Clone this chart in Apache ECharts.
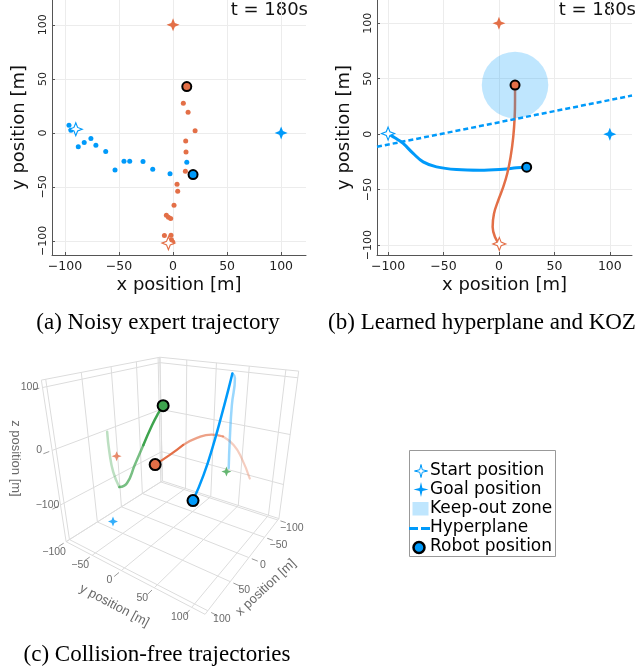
<!DOCTYPE html>
<html>
<head>
<meta charset="utf-8">
<script src="https://cdn.jsdelivr.net/npm/echarts@6/dist/echarts.min.js"></script>
<style>
  html, body { margin: 0; padding: 0; background: #fff; }
  #chart { width: 640px; height: 669px; }
</style>
</head>
<body>
<div id="chart"></div>
<script>
const BLUE = '#009AFA', ORANGE = '#E36F47', GREEN = '#3EA44E';
const SANS = 'DejaVu Sans';

// ---- shared
const ticks2d = [-100, -50, 0, 50, 100];
const timeLabel = 't = 180s';
const blueGoal = [100, 0];
const orangeGoal = [0, 100];

// ---- (a) noisy expert trajectory
const aBlueStart = [-90, 3.4];
const aOrangeStart = [-4.3, -102];
const aBlueDots = [[-96.3, 7.1], [-94.5, 2.5], [-87.7, -12.9], [-82.2, -8.9], [-76, -5.2], [-71.4, -11.4],
  [-62.3, -17.3], [-53.7, -34.3], [-45.4, -26.2], [-40.1, -26.2], [-27.8, -26.5], [-18.8, -33.6],
  [-2.8, -37.7], [12.7, -27.2]];
const aOrangeDots = [[9.5, 27.5], [13.9, 19.2], [20.4, 2.1], [11.7, -7.4], [12, -17.6], [11.4, -35.5],
  [3.7, -47.5], [4.3, -54], [0.9, -67], [-6.2, -76.2], [-4.3, -78], [-2.2, -79.3], [-8, -95],
  [-1.9, -94.7], [-1.5, -99], [-0.3, -101]];
const aBlueRobot = [18.5, -38.6];
const aOrangeRobot = [12.7, 42.9];

// ---- (b) learned hyperplane and KOZ
const bBlueStart = [-100, 0.5];
const bOrangeStart = [0.3, -99];
const bBluePath = [[-100, 0.5], [-96, -2], [-91.5, -4.8], [-86.4, -8.4], [-77.4, -17.4], [-68.4, -25],
  [-56.3, -29.5], [-38.2, -31.9], [-17.2, -32.5], [3.9, -31.6], [15.9, -30.4], [25, -29.8]];
const bOrangePath = [[0.3, -99], [-3.6, -92.8], [-5.7, -83.7], [-4.5, -71.7], [-0.6, -59.6], [3.9, -47.6],
  [7.5, -35.5], [10.5, -20.5], [12.9, -2.4], [14.2, 15.6], [14.5, 30.7], [14.5, 44.3]];
const bBlueRobot = [25, -29.8];
const bOrangeRobot = [14.5, 44.3];
const kozCenter = [14.5, 44.3];
const kozRadius = 30;
const hyperplane = [[-110, -11.4], [120, 34.8]];

// ---- (c) 3D trajectories [x, y, z], start first, robot last
const green3d = [[50, -64, 19], [50, -63, -17], [50, -59, -53], [50, -50, -79], [50, -36, -66],
  [50, -21, -27], [50, -6, 12], [50, 8, 48], [50, 17, 68], [50, 24, 81]];
const orange3d = [[0, 108, -31], [0, 96, -1], [0, 85, 17], [0, 71, 27], [0, 56, 26],
  [0, 36, 15], [0, 16, -3], [0, -5, -28], [0, -30, -55]];
const blue3d = [[-40, 61, -51], [-50, 55, -1], [-60, 50, 54], [-70, 47, 97], [-70, 43, 104],
  [-60, 44, 81], [-45, 44, 40], [-30, 42, -9], [-15, 38, -59], [0, 32, -103]];
const orangeGoal3d = [40, -61, -29];
const blueGoal3d = [100, -13, -94];
const greenGoal3d = [0, 78, -30];
const ticks3d = [-100, -50, 0, 50, 100];
const ticks3dZ = [-100, 0, 100];

// scene box and camera (perspective view)
const box3d = { xmin: -104.5, xmax: 105.5, ymin: -100, ymax: 116.3, zmin: -175.7, zmax: 110.9 };
const cam = { phi: 34.44, el: 23.79, dist: 4.284, k: 357.8, cx: 177.9, cy: 459.7 };

function basis(c) {
  const p = c.phi * Math.PI / 180, e = c.el * Math.PI / 180;
  return {
    ev: [Math.cos(e) * Math.cos(p), Math.cos(e) * Math.sin(p), Math.sin(e)],
    r: [-Math.sin(p), Math.cos(p), 0],
    u: [-Math.sin(e) * Math.cos(p), -Math.sin(e) * Math.sin(p), Math.cos(e)]
  };
}
const CB = basis(cam);
function dot(a, v) { return a[0] * v[0] + a[1] * v[1] + a[2] * v[2]; }
function project(pt) {
  const b = box3d;
  const Q = [2 * (pt[0] - b.xmin) / (b.xmax - b.xmin) - 1,
             2 * (pt[1] - b.ymin) / (b.ymax - b.ymin) - 1,
             2 * (pt[2] - b.zmin) / (b.zmax - b.zmin) - 1];
  const d = cam.dist - dot(Q, CB.ev);
  return [cam.cx + cam.k * dot(Q, CB.r) / d, cam.cy - cam.k * dot(Q, CB.u) / d];
}
const P = pt => project(pt);

const b = box3d;
const grid3d = [];
ticks3d.forEach(t => {
  grid3d.push([[t, b.ymin, b.zmin], [t, b.ymax, b.zmin]]);
  grid3d.push([[b.xmin, t, b.zmin], [b.xmax, t, b.zmin]]);
  grid3d.push([[t, b.ymin, b.zmin], [t, b.ymin, b.zmax]]);
  grid3d.push([[b.xmin, t, b.zmin], [b.xmin, t, b.zmax]]);
});
ticks3dZ.forEach(t => {
  grid3d.push([[b.xmin, b.ymin, t], [b.xmax, b.ymin, t]]);
  grid3d.push([[b.xmin, b.ymin, t], [b.xmin, b.ymax, t]]);
});
[[[b.xmin, b.ymin, b.zmin], [b.xmin, b.ymin, b.zmax]], [[b.xmin, b.ymin, b.zmin], [b.xmax, b.ymin, b.zmin]],
 [[b.xmin, b.ymin, b.zmin], [b.xmin, b.ymax, b.zmin]], [[b.xmax, b.ymin, b.zmin], [b.xmax, b.ymin, b.zmax]],
 [[b.xmin, b.ymax, b.zmin], [b.xmin, b.ymax, b.zmax]], [[b.xmin, b.ymin, b.zmax], [b.xmax, b.ymin, b.zmax]],
 [[b.xmin, b.ymin, b.zmax], [b.xmin, b.ymax, b.zmax]], [[b.xmax, b.ymin, b.zmin], [b.xmax, b.ymax, b.zmin]],
 [[b.xmin, b.ymax, b.zmin], [b.xmax, b.ymax, b.zmin]]].forEach(s => grid3d.push(s));
const tickMarks3d = [];
ticks3d.forEach(t => {
  tickMarks3d.push([[t, b.ymax + 4, b.zmin], [t, b.ymax + 12, b.zmin]]);
  tickMarks3d.push([[b.xmax + 4, t, b.zmin], [b.xmax + 12, t, b.zmin]]);
});
ticks3dZ.forEach(t => tickMarks3d.push([[b.xmax + 4, b.ymin, t], [b.xmax + 12, b.ymin, t]]));

const minus = v => String(v).replace('-', '\u2212');
const star4 = 'path://M0,-10L2.8,-2.8L10,0L2.8,2.8L0,10L-2.8,2.8L-10,0L-2.8,-2.8Z';

function xAx(gi, min, max) {
  return {
    gridIndex: gi, type: 'value', min: min, max: max,
    name: 'x position [m]', nameLocation: 'middle', nameGap: 21,
    nameTextStyle: { fontFamily: SANS, fontSize: 18, color: '#111' },
    axisLine: { onZero: false, lineStyle: { color: '#555', width: 1 } },
    axisTick: { inside: true, length: 3, customValues: ticks2d, lineStyle: { color: '#555' } },
    axisLabel: { customValues: ticks2d, formatter: minus, fontFamily: SANS, fontSize: 12.5, color: '#222', margin: 5 },
    splitLine: { show: true, lineStyle: { color: '#ececec', width: 1 } }
  };
}
function yAx(gi, min, max) {
  return {
    gridIndex: gi, type: 'value', min: min, max: max,
    name: 'y position [m]', nameLocation: 'middle', nameGap: 24, nameRotate: 90,
    nameTextStyle: { fontFamily: SANS, fontSize: 18, color: '#111' },
    axisLine: { onZero: false, lineStyle: { color: '#555', width: 1 } },
    axisTick: { inside: true, length: 3, customValues: ticks2d, lineStyle: { color: '#555' } },
    axisLabel: { customValues: ticks2d, formatter: minus, rotate: 90, fontFamily: SANS, fontSize: 11, color: '#222', margin: 3 },
    splitLine: { show: true, lineStyle: { color: '#ececec', width: 1 } }
  };
}
function robot(gi, pt, color, size) {
  return { type: 'scatter', xAxisIndex: gi, yAxisIndex: gi, z: 6, symbolSize: size || 9, data: [pt],
    itemStyle: { color: color, borderColor: '#000', borderWidth: 2, opacity: 1 } };
}
function star(gi, pts, color, hollow, size) {
  return { type: 'scatter', xAxisIndex: gi, yAxisIndex: gi, z: 5, symbol: star4, symbolSize: size || 13, data: pts,
    itemStyle: hollow ? { color: '#fff', borderColor: color, borderWidth: 1.1, opacity: 1 } : { color: color, opacity: 1 } };
}
// a 3D path drawn in pieces that get more opaque toward the robot
function path3d(pts, color, width, cuts, alphas) {
  return alphas.map((a, i) => ({
    type: 'line', xAxisIndex: 2, yAxisIndex: 2, z: 3 + i * 0.01, silent: true, smooth: 0.5, symbol: 'none',
    data: pts.slice(cuts[i], cuts[i + 1] + 1).map(P),
    lineStyle: { color: color, width: width, opacity: a, cap: 'round' }
  }));
}
function tickLabels(list, offset) {
  return { type: 'scatter', xAxisIndex: 2, yAxisIndex: 2, symbolSize: 0, silent: true, z: 2,
    data: list.map(it => ({ value: P(it[0]), name: minus(it[1]) })),
    label: { show: true, formatter: '{b}', offset: offset, fontFamily: 'Liberation Sans', fontSize: 10.5, color: '#444', position: 'inside' } };
}
// label offsets are applied in the rotated frame, so turn the wanted screen shift back
function axisTitle(pt, text, rot, shift) {
  const th = rot * Math.PI / 180, c = Math.cos(th), s = Math.sin(th);
  const off = [shift[0] * c - shift[1] * s, shift[0] * s + shift[1] * c];
  return { type: 'scatter', xAxisIndex: 2, yAxisIndex: 2, symbolSize: 0, silent: true, z: 2,
    data: [{ value: P(pt), name: text }],
    label: { show: true, formatter: '{b}', rotate: rot, offset: off, fontFamily: 'Liberation Sans', fontSize: 13, color: '#444', position: 'inside' } };
}

const series = [
  // (a)
  { type: 'scatter', xAxisIndex: 0, yAxisIndex: 0, symbolSize: 5, data: aBlueDots, itemStyle: { color: BLUE, opacity: 1 } },
  { type: 'scatter', xAxisIndex: 0, yAxisIndex: 0, symbolSize: 5, data: aOrangeDots, itemStyle: { color: ORANGE, opacity: 1 } },
  star(0, [aBlueStart], BLUE, true), star(0, [aOrangeStart], ORANGE, true),
  star(0, [blueGoal], BLUE, false), star(0, [orangeGoal], ORANGE, false),
  robot(0, aBlueRobot, BLUE), robot(0, aOrangeRobot, ORANGE),
  // (b)
  { type: 'line', xAxisIndex: 1, yAxisIndex: 1, z: 2, smooth: 0.4, symbol: 'none', data: bBluePath,
    lineStyle: { color: BLUE, width: 3 } },
  { type: 'line', xAxisIndex: 1, yAxisIndex: 1, z: 2, smooth: 0.4, symbol: 'none', data: bOrangePath,
    lineStyle: { color: ORANGE, width: 2.5 } },
  { type: 'custom', xAxisIndex: 1, yAxisIndex: 1, z: 3, data: [[kozCenter[0], kozCenter[1], kozRadius]],
    renderItem: (params, api) => {
      const c = api.coord([api.value(0), api.value(1)]);
      const s = api.size([api.value(2), api.value(2)]);
      return { type: 'circle', shape: { cx: c[0], cy: c[1], r: s[0] }, style: { fill: 'rgba(0,154,250,0.25)' } };
    } },
  { type: 'line', xAxisIndex: 1, yAxisIndex: 1, z: 4, symbol: 'none', data: hyperplane,
    lineStyle: { color: BLUE, width: 2.5, type: [5, 3] } },
  star(1, [bBlueStart], BLUE, true), star(1, [bOrangeStart], ORANGE, true),
  star(1, [blueGoal], BLUE, false), star(1, [orangeGoal], ORANGE, false),
  robot(1, bBlueRobot, BLUE), robot(1, bOrangeRobot, ORANGE),
  // (c)
  { type: 'lines', coordinateSystem: 'cartesian2d', xAxisIndex: 2, yAxisIndex: 2, silent: true, z: 1,
    data: grid3d.map(s => ({ coords: [P(s[0]), P(s[1])] })), lineStyle: { color: '#dcdcdc', width: 1, opacity: 1 } },
  { type: 'lines', coordinateSystem: 'cartesian2d', xAxisIndex: 2, yAxisIndex: 2, silent: true, z: 1,
    data: tickMarks3d.map(s => ({ coords: [P(s[0]), P(s[1])] })), lineStyle: { color: '#999', width: 1, opacity: 1 } },
  tickLabels(ticks3d.map(t => [[t, b.ymax, b.zmin], t]), [14, 8]),
  tickLabels(ticks3d.map(t => [[b.xmax, t, b.zmin], t]), [-12, 10]),
  tickLabels(ticks3dZ.map(t => [[b.xmax, b.ymin, t], t]), [-13, 0]),
  axisTitle([0, b.ymax, b.zmin], 'x position [m]', 43, [17, 30]),
  axisTitle([b.xmax, 0, b.zmin], 'y position [m]', -28, [-7, 35]),
  axisTitle([b.xmax, b.ymin, 0], 'z position [m]', -90, [-37, 8]),
  ...path3d(green3d, GREEN, 2.5, [0, 3, 6, 9], [0.35, 0.7, 1]),
  ...path3d(orange3d, ORANGE, 2.2, [0, 3, 6, 8], [0.35, 0.65, 1]),
  ...path3d(blue3d, BLUE, 2.5, [0, 4, 9], [0.4, 1]),
  { type: 'scatter', xAxisIndex: 2, yAxisIndex: 2, z: 5, symbol: star4, symbolSize: 10,
    data: [{ value: P(orangeGoal3d), itemStyle: { color: ORANGE } }, { value: P(blueGoal3d), itemStyle: { color: BLUE } },
      { value: P(greenGoal3d), itemStyle: { color: GREEN } }] },
  robot(2, P(green3d[green3d.length - 1]), GREEN, 11),
  robot(2, P(orange3d[orange3d.length - 1]), ORANGE, 11),
  robot(2, P(blue3d[blue3d.length - 1]), BLUE, 11)
];

function starPts(cx, cy, R, r) {
  const pts = [];
  for (let i = 0; i < 8; i++) {
    const a = i * Math.PI / 4 - Math.PI / 2, rr = i % 2 ? r : R;
    pts.push([cx + rr * Math.cos(a), cy + rr * Math.sin(a)]);
  }
  return pts;
}
const legendFont = '17px "DejaVu Sans"';
const legend = [
  { type: 'rect', shape: { x: 409.5, y: 450.5, width: 146, height: 106 }, style: { fill: '#fff', stroke: '#999', lineWidth: 1 } },
  { type: 'polygon', shape: { points: starPts(421, 471, 6.5, 1.8) }, style: { fill: '#fff', stroke: BLUE, lineWidth: 1 } },
  { type: 'polygon', shape: { points: starPts(421, 489.5, 7.5, 2) }, style: { fill: BLUE } },
  { type: 'rect', shape: { x: 412.5, y: 502, width: 16, height: 13.5 }, style: { fill: 'rgba(0,154,250,0.25)' } },
  { type: 'line', shape: { x1: 409, y1: 528.5, x2: 430, y2: 528.5 }, style: { stroke: BLUE, lineWidth: 3, lineDash: [9, 3] } },
  { type: 'circle', shape: { cx: 419, cy: 547.5, r: 5.5 }, style: { fill: BLUE, stroke: '#000', lineWidth: 2.5 } },
  { type: 'text', x: 430, y: 471, style: { text: 'Start position', font: legendFont, fill: '#000', verticalAlign: 'middle' } },
  { type: 'text', x: 430, y: 490, style: { text: 'Goal position', font: legendFont, fill: '#000', verticalAlign: 'middle' } },
  { type: 'text', x: 430, y: 509, style: { text: 'Keep-out zone', font: legendFont, fill: '#000', verticalAlign: 'middle' } },
  { type: 'text', x: 430, y: 528, style: { text: 'Hyperplane', font: legendFont, fill: '#000', verticalAlign: 'middle' } },
  { type: 'text', x: 430, y: 547, style: { text: 'Robot position', font: legendFont, fill: '#000', verticalAlign: 'middle' } }
];

const capFont = '23px "Liberation Serif"';
const opt = {
  animation: false,
  grid: [
    { left: 52, top: 0, width: 254, height: 255 },
    { left: 377, top: 0, width: 255, height: 255 },
    { left: 0, top: 0, width: 640, height: 669 }
  ],
  xAxis: [xAx(0, -112, 123), xAx(1, -110, 120), { gridIndex: 2, type: 'value', min: 0, max: 640, show: false }],
  yAxis: [yAx(0, -113, 123), yAx(1, -109, 121), { gridIndex: 2, type: 'value', min: 0, max: 669, inverse: true, show: false }],
  series: series,
  graphic: legend.concat([
    { type: 'text', x: 308, y: 1, style: { text: timeLabel, font: '18px "DejaVu Sans"', fill: '#111', align: 'right' } },
    { type: 'text', x: 636, y: 1, style: { text: timeLabel, font: '18px "DejaVu Sans"', fill: '#111', align: 'right' } },
    { type: 'text', x: 158, y: 323, style: { text: '(a) Noisy expert trajectory', font: capFont, fill: '#000', align: 'center', verticalAlign: 'middle' } },
    { type: 'text', x: 482, y: 323, style: { text: '(b) Learned hyperplane and KOZ', font: capFont, fill: '#000', align: 'center', verticalAlign: 'middle' } },
    { type: 'text', x: 157, y: 655, style: { text: '(c) Collision-free trajectories', font: capFont, fill: '#000', align: 'center', verticalAlign: 'middle' } }
  ])
};
const chart = echarts.init(document.getElementById('chart'));
chart.setOption(opt);
</script>
</body>
</html>
